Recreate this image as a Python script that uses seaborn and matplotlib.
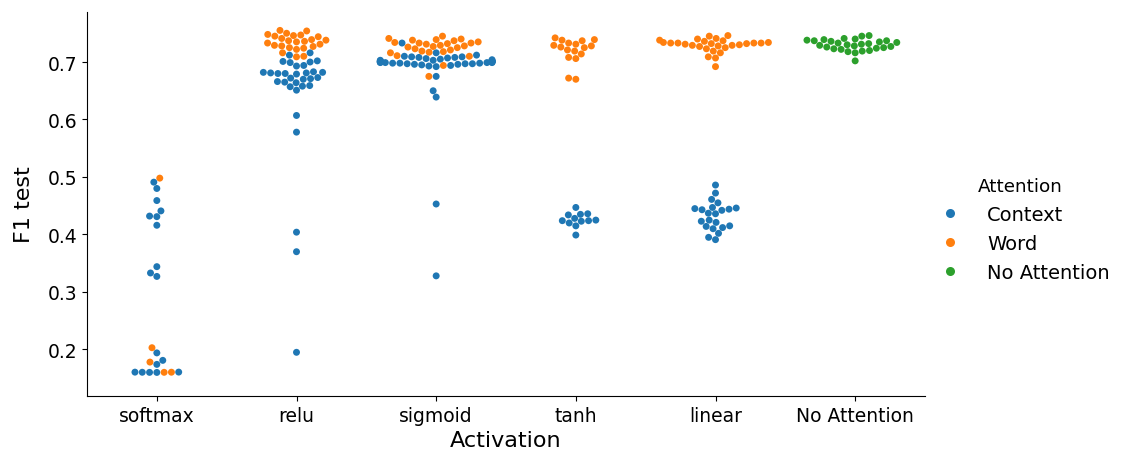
import matplotlib
matplotlib.use("Agg")
import matplotlib.pyplot as plt
import pandas as pd
import seaborn as sns

activations = ["softmax", "relu", "sigmoid", "tanh", "linear", "No Attention"]
attention_levels = ["Context", "Word", "No Attention"]
palette = {"Context": "#1f77b4", "Word": "#ff7f0e", "No Attention": "#2ca02c"}

softmax_context = [0.491, 0.480, 0.459, 0.441, 0.432, 0.431, 0.416, 0.344, 0.333, 0.327,
                   0.194, 0.181, 0.174, 0.1600, 0.1601, 0.1603, 0.1605, 0.1606]
softmax_word = [0.498, 0.203, 0.178, 0.1602, 0.1604]

relu_context = [0.716, 0.712, 0.702, 0.701, 0.700, 0.699, 0.694, 0.693, 0.683, 0.682,
                0.682, 0.681, 0.681, 0.680, 0.680, 0.679, 0.673, 0.672, 0.671, 0.670,
                0.666, 0.665, 0.664, 0.659, 0.658, 0.657, 0.651, 0.607, 0.578, 0.404,
                0.370, 0.195]
relu_word = [0.755, 0.754, 0.750, 0.748, 0.747, 0.746, 0.745, 0.744, 0.741, 0.739,
             0.738, 0.737, 0.736, 0.735, 0.733, 0.731, 0.729, 0.728, 0.727, 0.725,
             0.724, 0.722, 0.716, 0.710, 0.709]

sigmoid_context = [0.733, 0.716, 0.712, 0.710, 0.709, 0.709, 0.708, 0.708, 0.707, 0.706,
                   0.705, 0.704, 0.703, 0.703, 0.702, 0.702, 0.702, 0.701, 0.701, 0.701,
                   0.701, 0.700, 0.700, 0.700, 0.700, 0.699, 0.699, 0.699, 0.699, 0.698,
                   0.698, 0.698, 0.697, 0.697, 0.697, 0.696, 0.696, 0.695, 0.694, 0.693,
                   0.692, 0.675, 0.650, 0.639, 0.453, 0.328]
sigmoid_word = [0.745, 0.741, 0.740, 0.739, 0.738, 0.737, 0.735, 0.734, 0.733, 0.733,
                0.732, 0.731, 0.729, 0.728, 0.727, 0.726, 0.725, 0.723, 0.721, 0.719,
                0.718, 0.717, 0.716, 0.711, 0.710, 0.694, 0.675]

tanh_context = [0.447, 0.436, 0.435, 0.434, 0.428, 0.425, 0.424, 0.424, 0.423, 0.420,
                0.415, 0.399]
tanh_word = [0.742, 0.739, 0.738, 0.737, 0.733, 0.731, 0.729, 0.728, 0.726, 0.725,
             0.721, 0.719, 0.714, 0.708, 0.706, 0.672, 0.670]

linear_context = [0.486, 0.472, 0.461, 0.455, 0.447, 0.446, 0.445, 0.444, 0.443, 0.442,
                  0.437, 0.436, 0.425, 0.423, 0.421, 0.415, 0.414, 0.412, 0.410, 0.402,
                  0.395, 0.391]
linear_word = [0.746, 0.745, 0.741, 0.740, 0.738, 0.737, 0.736, 0.734, 0.734,
               0.733, 0.733, 0.733, 0.733, 0.732, 0.732, 0.731, 0.730,
               0.729, 0.729, 0.728, 0.727, 0.725, 0.723, 0.719, 0.716, 0.709,
               0.707, 0.692]

no_attention = [0.746, 0.745, 0.741, 0.740, 0.739, 0.738, 0.737, 0.737, 0.736, 0.735,
                0.734, 0.733, 0.732, 0.731, 0.730, 0.729, 0.728, 0.727, 0.726,
                0.725, 0.724, 0.723, 0.722, 0.720, 0.719, 0.718, 0.716, 0.702]

groups = [
    ("softmax", "Context", softmax_context), ("softmax", "Word", softmax_word),
    ("relu", "Context", relu_context), ("relu", "Word", relu_word),
    ("sigmoid", "Context", sigmoid_context), ("sigmoid", "Word", sigmoid_word),
    ("tanh", "Context", tanh_context), ("tanh", "Word", tanh_word),
    ("linear", "Context", linear_context), ("linear", "Word", linear_word),
    ("No Attention", "No Attention", no_attention),
]
rows = [{"Activation": a, "Attention": h, "F1 test": v}
        for a, h, vals in groups for v in vals]
df = pd.DataFrame(rows)

fig, ax = plt.subplots(figsize=(11.22, 4.52), dpi=100)
fig.subplots_adjust(left=87 / 1122, right=925 / 1122, bottom=1 - 397 / 452, top=1 - 13 / 452)

sns.swarmplot(data=df, x="Activation", y="F1 test", hue="Attention",
              order=activations, hue_order=attention_levels, palette=palette,
              size=5, ax=ax)

ax.set_ylim(0.119, 0.787)
ax.set_yticks([0.2, 0.3, 0.4, 0.5, 0.6, 0.7])
ax.tick_params(axis="both", labelsize=13.5)
ax.set_xlabel("Activation", fontsize=16)
ax.set_ylabel("F1 test", fontsize=16, labelpad=10)
sns.despine(ax=ax)

handles, labels = ax.get_legend_handles_labels()
ax.legend(handles, labels, title="Attention", loc="center left",
          bbox_to_anchor=(913 / 1122, 0.49), bbox_transform=fig.transFigure,
          frameon=False, fontsize=14, title_fontsize=13.2,
          handletextpad=0.9, markerscale=1.3)

fig.savefig("out.png", dpi=100)
